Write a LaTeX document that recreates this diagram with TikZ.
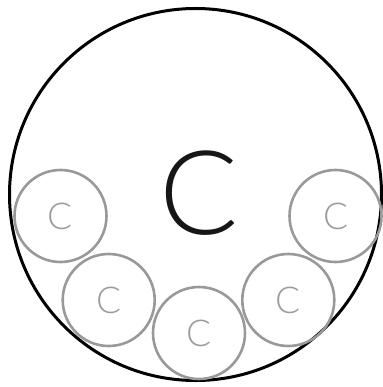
\documentclass[tikz,border=0pt]{standalone}
\usepackage{fontspec}
\newfontfamily\lightfont{Lato Light}
\usetikzlibrary{positioning}
\definecolor{ringgray}{HTML}{999999}
\definecolor{lettergray}{HTML}{9C9C9C}
\definecolor{inkblack}{HTML}{161616}

\begin{document}
\begin{tikzpicture}[
    x=1pt, y=-1pt,
    outer/.style={
        circle, draw=black, line width=3pt, minimum size=372pt, inner sep=0pt
    },
    cell/.style={
        circle, draw=ringgray, line width=2.6pt, fill=none, minimum size=92pt,
        inner sep=0pt, text=lettergray, font=\lightfont\fontsize{37}{37}\selectfont
    },
    bigletter/.style={text=inkblack, inner sep=0pt, font=\lightfont\fontsize{117}{117}\selectfont}
]
\useasboundingbox (0,0) rectangle (382,387);

\node[outer] (whole) at (195.5,194.5) {};
\node[bigletter] (mainc) at (199.5,193) {C};

% ring of small cells along the bottom
\node[cell] (c1) at (60.5,216)  {C};
\node[cell] (c2) at (108.7,300) {C};
\node[cell] (c3) at (199,333)   {C};
\node[cell] (c4) at (288.3,300) {C};
\node[cell] (c5) at (335.5,216) {C};

\end{tikzpicture}
\end{document}
